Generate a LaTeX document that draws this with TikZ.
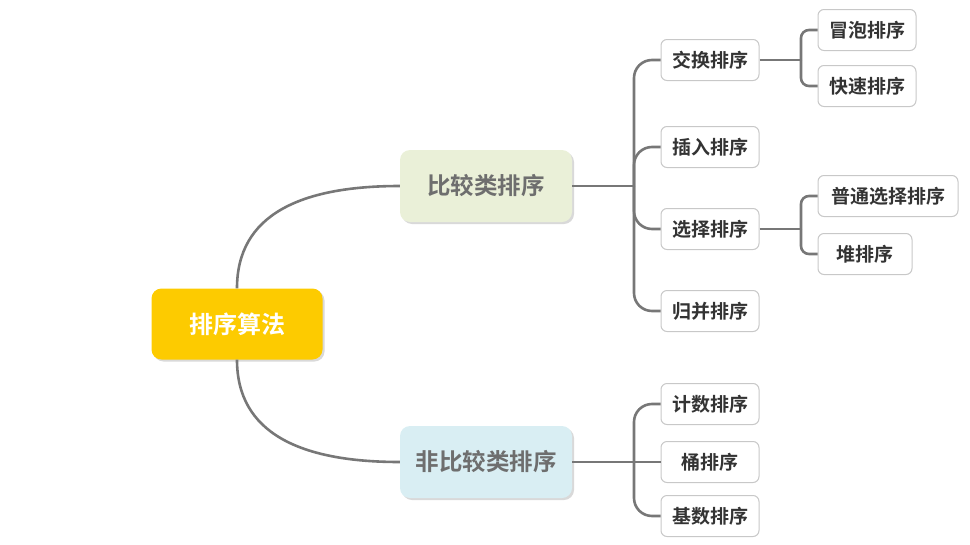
\documentclass[tikz,border=0pt]{standalone}
\usepackage{fontspec}
\setmainfont{Noto Sans CJK SC}[BoldFont={Noto Sans CJK SC Bold}]
\usetikzlibrary{shadows}
\definecolor{rootfill}{HTML}{FDCB00}
\definecolor{greenfill}{HTML}{EAF0D8}
\definecolor{bluefill}{HTML}{D9EEF3}
\definecolor{midtext}{HTML}{6E6E6E}
\definecolor{leaftext}{HTML}{333333}
\definecolor{linegray}{HTML}{777777}
\definecolor{leafborder}{HTML}{C8C8C8}
\tikzset{
  rootbox/.style={fill=rootfill, rounded corners=10pt, minimum width=171pt, minimum height=71pt,
    text=white, font=\fontsize{24}{28}\selectfont\bfseries,
    drop shadow={opacity=0.3, shadow xshift=2pt, shadow yshift=-2pt}},
  midbox/.style={rounded corners=10pt, minimum width=172pt, minimum height=72pt,
    text=midtext, font=\fontsize{23.5}{27}\selectfont\bfseries,
    drop shadow={opacity=0.3, shadow xshift=2pt, shadow yshift=-2pt}},
  leafbox/.style={draw=leafborder, line width=1pt, fill=white, rounded corners=6pt,
    minimum height=41pt, minimum width=98pt, inner xsep=8pt,
    text=leaftext, font=\fontsize{19}{22}\selectfont\bfseries},
  branch/.style={draw=linegray, line width=2.6pt},
}
\begin{document}
\begin{tikzpicture}[x=1pt,y=-1pt]
\useasboundingbox (0,0) rectangle (970,544);
% nodes
\node[rootbox] (root) at (237,324) {排序算法};
\node[midbox, fill=greenfill] (cmp) at (486,186) {比较类排序};
\node[midbox, fill=bluefill] (ncmp) at (486,462) {非比较类排序};

\node[leafbox] (swap) at (710,60) {交换排序};
\node[leafbox] (ins) at (710,147) {插入排序};
\node[leafbox] (sel) at (710,229) {选择排序};
\node[leafbox] (merge) at (710,311) {归并排序};
\node[leafbox] (count) at (710,404) {计数排序};
\node[leafbox] (bucket) at (710,462) {桶排序};
\node[leafbox] (radix) at (710,516) {基数排序};

\node[leafbox] (bubble) at (867,30) {冒泡排序};
\node[leafbox] (quick) at (867,86) {快速排序};
\node[leafbox, minimum width=140pt] (plain) at (888,196) {普通选择排序};
\node[leafbox, minimum width=94pt] (heap) at (865,254) {堆排序};

% junctions
\coordinate (J1) at (634,186);
\coordinate (J2) at (634,462);
\coordinate (J3) at (801,60);
\coordinate (J4) at (801,229);

% root connectors
\draw[branch] (root.north) .. controls (237,215) and (300,186) .. (cmp.west);
\draw[branch] (root.south) .. controls (237,433) and (300,462) .. (ncmp.west);

% comparison branch
\draw[branch] (cmp.east) -- (J1);
\draw[branch, rounded corners=18pt] (J1) |- (swap.west);
\draw[branch, rounded corners=18pt] (J1) |- (ins.west);
\draw[branch, rounded corners=18pt] (J1) |- (sel.west);
\draw[branch, rounded corners=18pt] (J1) |- (merge.west);

% non-comparison branch
\draw[branch] (ncmp.east) -- (J2);
\draw[branch, rounded corners=18pt] (J2) |- (count.west);
\draw[branch] (J2) -- (bucket.west);
\draw[branch, rounded corners=18pt] (J2) |- (radix.west);

% sub branches
\draw[branch] (swap.east) -- (J3);
\draw[branch, rounded corners=8pt] (J3) |- (bubble.west);
\draw[branch, rounded corners=8pt] (J3) |- (quick.west);
\draw[branch] (sel.east) -- (J4);
\draw[branch, rounded corners=8pt] (J4) |- (plain.west);
\draw[branch, rounded corners=8pt] (J4) |- (heap.west);
\end{tikzpicture}
\end{document}
